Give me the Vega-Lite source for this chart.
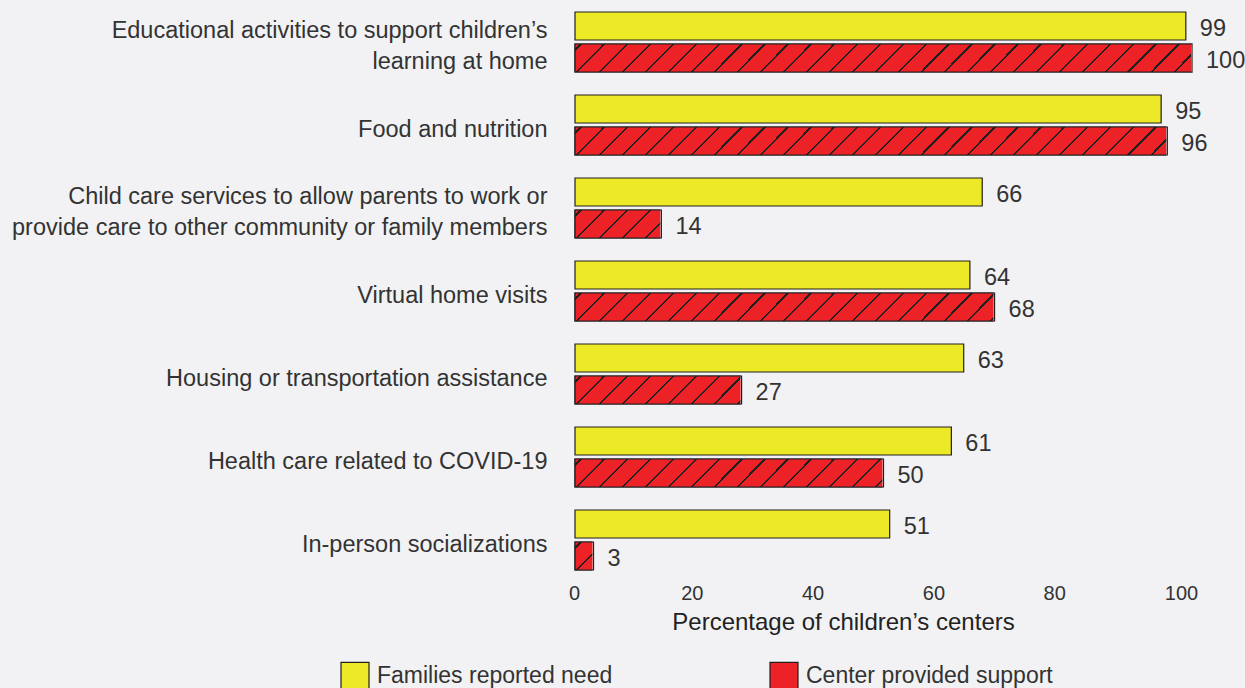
{
  "$schema": "https://vega.github.io/schema/vega-lite/v6.json",
  "width": 617,
  "height": 581,
  "autosize": "none",
  "padding": {"left": 575, "top": 0.5, "right": 53, "bottom": 106.5},
  "background": "#f2f2f4",
  "config": {"view": {"stroke": null}, "font": "Liberation Sans"},
  "data": {
    "values": [
      {"category": "Educational activities to support children’s|learning at home", "series": "Families reported need", "value": 99},
      {"category": "Educational activities to support children’s|learning at home", "series": "Center provided support", "value": 100},
      {"category": "Food and nutrition", "series": "Families reported need", "value": 95},
      {"category": "Food and nutrition", "series": "Center provided support", "value": 96},
      {"category": "Child care services to allow parents to work or|provide care to other community or family members", "series": "Families reported need", "value": 66},
      {"category": "Child care services to allow parents to work or|provide care to other community or family members", "series": "Center provided support", "value": 14},
      {"category": "Virtual home visits", "series": "Families reported need", "value": 64},
      {"category": "Virtual home visits", "series": "Center provided support", "value": 68},
      {"category": "Housing or transportation assistance", "series": "Families reported need", "value": 63},
      {"category": "Housing or transportation assistance", "series": "Center provided support", "value": 27},
      {"category": "Health care related to COVID-19", "series": "Families reported need", "value": 61},
      {"category": "Health care related to COVID-19", "series": "Center provided support", "value": 50},
      {"category": "In-person socializations", "series": "Families reported need", "value": 51},
      {"category": "In-person socializations", "series": "Center provided support", "value": 3}
    ]
  },
  "encoding": {
    "y": {
      "field": "category",
      "type": "nominal",
      "sort": null,
      "scale": {"paddingInner": 0.277, "paddingOuter": 0.1385},
      "axis": {
        "title": null,
        "domain": false,
        "ticks": false,
        "labelPadding": 28,
        "labelFontSize": 23.5,
        "labelColor": "#333333",
        "labelLimit": 600,
        "labelLineHeight": 31,
        "labelOffset": {"expr": "indexof(datum.value, '|') >= 0 ? -11 : 5"},
        "labelExpr": "split(datum.label, '|')"
      }
    },
    "yOffset": {
      "field": "series",
      "type": "nominal",
      "sort": ["Families reported need", "Center provided support"],
      "scale": {"paddingInner": 0.125, "paddingOuter": 0}
    }
  },
  "layer": [
    {
      "mark": {"type": "bar", "stroke": "#231f20", "strokeWidth": 1.2},
      "encoding": {
        "x": {
          "field": "value",
          "type": "quantitative",
          "scale": {"domain": [0, 100], "nice": false},
          "axis": {
            "title": "Percentage of children’s centers",
            "values": [0, 20, 40, 60, 80, 100],
            "domain": false,
            "ticks": false,
            "grid": false,
            "labelFlush": false,
            "labelPadding": 2,
            "labelFontSize": 20,
            "labelColor": "#333333",
            "labelOffset": {"expr": "datum.value == 0 ? -1 : (datum.value == 100 ? -11 : -4 - datum.value * 0.13)"},
            "titleFontSize": 24,
            "titleFontWeight": "normal",
            "titleColor": "#222222",
            "titleX": 268,
            "titleY": 48,
            "titleBaseline": "alphabetic"
          }
        },
        "color": {
          "field": "series",
          "type": "nominal",
          "scale": {
            "domain": ["Families reported need", "Center provided support"],
            "range": ["#ece926", "#ec2227"]
          },
          "legend": {
            "orient": "none",
            "legendX": -235,
            "legendY": 660.5,
            "direction": "horizontal",
            "columns": 2,
            "title": null,
            "symbolType": "square",
            "symbolSize": 784,
            "symbolStrokeColor": "#231f20",
            "symbolStrokeWidth": 1.2,
            "symbolOpacity": 1,
            "labelFontSize": 23,
            "labelColor": "#333333",
            "labelOffset": 7,
            "labelLimit": 400,
            "columnPadding": 154,
            "padding": 0
          }
        }
      }
    },
    {
      "transform": [{"filter": "datum.series === 'Center provided support'"}],
      "mark": {
        "type": "bar",
        "fill": {
          "gradient": "linear", "x1": 0, "y1": 0, "x2": 1.04323, "y2": 0.047343,
          "stops": [
            {"offset": 0, "color": "#ec2227"},
            {"offset": 0.00775, "color": "#ec2227"}, {"offset": 0.00775, "color": "#231f20"}, {"offset": 0.01225, "color": "#231f20"}, {"offset": 0.01225, "color": "#ec2227"},
            {"offset": 0.04341, "color": "#ec2227"}, {"offset": 0.04341, "color": "#231f20"}, {"offset": 0.04791, "color": "#231f20"}, {"offset": 0.04791, "color": "#ec2227"},
            {"offset": 0.07907, "color": "#ec2227"}, {"offset": 0.07907, "color": "#231f20"}, {"offset": 0.08357, "color": "#231f20"}, {"offset": 0.08357, "color": "#ec2227"},
            {"offset": 0.11473, "color": "#ec2227"}, {"offset": 0.11473, "color": "#231f20"}, {"offset": 0.11923, "color": "#231f20"}, {"offset": 0.11923, "color": "#ec2227"},
            {"offset": 0.15039, "color": "#ec2227"}, {"offset": 0.15039, "color": "#231f20"}, {"offset": 0.15489, "color": "#231f20"}, {"offset": 0.15489, "color": "#ec2227"},
            {"offset": 0.18605, "color": "#ec2227"}, {"offset": 0.18605, "color": "#231f20"}, {"offset": 0.19055, "color": "#231f20"}, {"offset": 0.19055, "color": "#ec2227"},
            {"offset": 0.22171, "color": "#ec2227"}, {"offset": 0.22171, "color": "#231f20"}, {"offset": 0.22621, "color": "#231f20"}, {"offset": 0.22621, "color": "#ec2227"},
            {"offset": 0.25736, "color": "#ec2227"}, {"offset": 0.25736, "color": "#231f20"}, {"offset": 0.26186, "color": "#231f20"}, {"offset": 0.26186, "color": "#ec2227"},
            {"offset": 0.29302, "color": "#ec2227"}, {"offset": 0.29302, "color": "#231f20"}, {"offset": 0.29752, "color": "#231f20"}, {"offset": 0.29752, "color": "#ec2227"},
            {"offset": 0.32868, "color": "#ec2227"}, {"offset": 0.32868, "color": "#231f20"}, {"offset": 0.33318, "color": "#231f20"}, {"offset": 0.33318, "color": "#ec2227"},
            {"offset": 0.36434, "color": "#ec2227"}, {"offset": 0.36434, "color": "#231f20"}, {"offset": 0.36884, "color": "#231f20"}, {"offset": 0.36884, "color": "#ec2227"},
            {"offset": 0.40000, "color": "#ec2227"}, {"offset": 0.40000, "color": "#231f20"}, {"offset": 0.40450, "color": "#231f20"}, {"offset": 0.40450, "color": "#ec2227"},
            {"offset": 0.43566, "color": "#ec2227"}, {"offset": 0.43566, "color": "#231f20"}, {"offset": 0.44016, "color": "#231f20"}, {"offset": 0.44016, "color": "#ec2227"},
            {"offset": 0.47132, "color": "#ec2227"}, {"offset": 0.47132, "color": "#231f20"}, {"offset": 0.47582, "color": "#231f20"}, {"offset": 0.47582, "color": "#ec2227"},
            {"offset": 0.50698, "color": "#ec2227"}, {"offset": 0.50698, "color": "#231f20"}, {"offset": 0.51148, "color": "#231f20"}, {"offset": 0.51148, "color": "#ec2227"},
            {"offset": 0.54264, "color": "#ec2227"}, {"offset": 0.54264, "color": "#231f20"}, {"offset": 0.54714, "color": "#231f20"}, {"offset": 0.54714, "color": "#ec2227"},
            {"offset": 0.57829, "color": "#ec2227"}, {"offset": 0.57829, "color": "#231f20"}, {"offset": 0.58279, "color": "#231f20"}, {"offset": 0.58279, "color": "#ec2227"},
            {"offset": 0.61395, "color": "#ec2227"}, {"offset": 0.61395, "color": "#231f20"}, {"offset": 0.61845, "color": "#231f20"}, {"offset": 0.61845, "color": "#ec2227"},
            {"offset": 0.64961, "color": "#ec2227"}, {"offset": 0.64961, "color": "#231f20"}, {"offset": 0.65411, "color": "#231f20"}, {"offset": 0.65411, "color": "#ec2227"},
            {"offset": 0.68527, "color": "#ec2227"}, {"offset": 0.68527, "color": "#231f20"}, {"offset": 0.68977, "color": "#231f20"}, {"offset": 0.68977, "color": "#ec2227"},
            {"offset": 0.72093, "color": "#ec2227"}, {"offset": 0.72093, "color": "#231f20"}, {"offset": 0.72543, "color": "#231f20"}, {"offset": 0.72543, "color": "#ec2227"},
            {"offset": 0.75659, "color": "#ec2227"}, {"offset": 0.75659, "color": "#231f20"}, {"offset": 0.76109, "color": "#231f20"}, {"offset": 0.76109, "color": "#ec2227"},
            {"offset": 0.79225, "color": "#ec2227"}, {"offset": 0.79225, "color": "#231f20"}, {"offset": 0.79675, "color": "#231f20"}, {"offset": 0.79675, "color": "#ec2227"},
            {"offset": 0.82791, "color": "#ec2227"}, {"offset": 0.82791, "color": "#231f20"}, {"offset": 0.83241, "color": "#231f20"}, {"offset": 0.83241, "color": "#ec2227"},
            {"offset": 0.86357, "color": "#ec2227"}, {"offset": 0.86357, "color": "#231f20"}, {"offset": 0.86807, "color": "#231f20"}, {"offset": 0.86807, "color": "#ec2227"},
            {"offset": 0.89922, "color": "#ec2227"}, {"offset": 0.89922, "color": "#231f20"}, {"offset": 0.90372, "color": "#231f20"}, {"offset": 0.90372, "color": "#ec2227"},
            {"offset": 0.93488, "color": "#ec2227"}, {"offset": 0.93488, "color": "#231f20"}, {"offset": 0.93938, "color": "#231f20"}, {"offset": 0.93938, "color": "#ec2227"},
            {"offset": 0.97054, "color": "#ec2227"}, {"offset": 0.97054, "color": "#231f20"}, {"offset": 0.97504, "color": "#231f20"}, {"offset": 0.97504, "color": "#ec2227"},
            {"offset": 1, "color": "#ec2227"}
          ]
        }
      },
      "encoding": {
        "x": {"datum": 0, "type": "quantitative"},
        "x2": {"datum": 100}
      }
    },
    {
      "transform": [{"filter": "datum.series === 'Center provided support'"}],
      "mark": {"type": "bar", "fill": "#f2f2f4", "stroke": "#f2f2f4", "strokeWidth": 2},
      "encoding": {
        "x": {"field": "value", "type": "quantitative"},
        "x2": {"datum": 100}
      }
    },
    {
      "transform": [{"filter": "datum.series === 'Center provided support'"}],
      "mark": {"type": "bar", "fill": "transparent", "stroke": "#231f20", "strokeWidth": 1.2},
      "encoding": {
        "x": {"field": "value", "type": "quantitative"}
      }
    },
    {
      "mark": {"type": "text", "align": "left", "dx": 14, "dy": 3, "fontSize": 23.5, "color": "#333333"},
      "encoding": {
        "x": {"field": "value", "type": "quantitative"},
        "text": {"field": "value", "type": "quantitative"}
      }
    }
  ]
}
